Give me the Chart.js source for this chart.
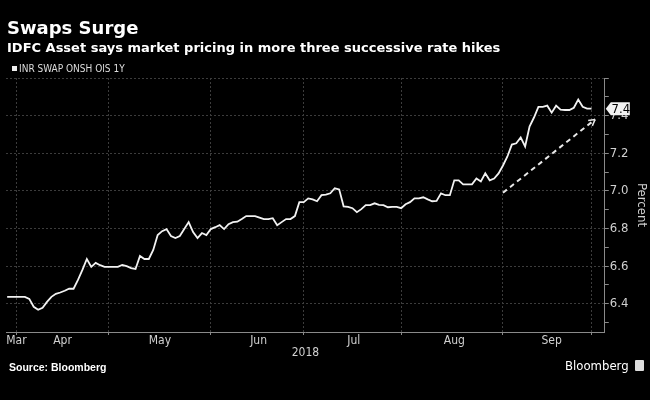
<!DOCTYPE html>
<html>
<head>
<meta charset="utf-8">
<script src="https://cdn.jsdelivr.net/npm/chart.js@4"></script>
<style>
  body { margin: 0; background: #000; }
  #wrap { position: relative; width: 650px; height: 400px; background: #000; overflow: hidden; }
  #chart { position: absolute; left: 0; top: 0; }
  .txt { position: absolute; color: #fff; white-space: nowrap; }
  #title { left: 7px; top: 19px; font: bold 18px/18px 'DejaVu Sans', sans-serif; }
  #subtitle { left: 7px; top: 41px; font: bold 13px/13px 'DejaVu Sans', sans-serif; }
  #legend { left: 12px; top: 64px; font: 10px/10px 'Liberation Sans Narrow', 'DejaVu Sans Condensed', sans-serif; color: #ddd; }
  #legend i { display: inline-block; width: 5px; height: 5px; background: #eee; margin-right: 2px; vertical-align: 1px; }
  #source { left: 9px; top: 362px; font: bold 10.5px/10.5px 'Liberation Sans', sans-serif; }
  #brand { left: 565px; top: 359px; font: 13px/13px 'DejaVu Sans Condensed', sans-serif; }
  #brand b { display: inline-block; width: 9px; height: 11px; background: #ddd; border-radius: 1px; margin-left: 6px; vertical-align: -1px; }
</style>
</head>
<body>
<div id="wrap">
  <canvas id="chart" width="650" height="400"></canvas>
  <div class="txt" id="title">Swaps Surge</div>
  <div class="txt" id="subtitle">IDFC Asset says market pricing in more three successive rate hikes</div>
  <div class="txt" id="legend"><i></i>INR SWAP ONSH OIS 1Y</div>
  <div class="txt" id="source">Source: Bloomberg</div>
  <div class="txt" id="brand">Bloomberg<b></b></div>
</div>
<script>
// x values are business days counted from the first business day of April 2018
const monthLabels = ['Mar', 'Apr', 'May', 'Jun', 'Jul', 'Aug', 'Sep'];
const monthLabelDays = [0.1, 10.5, 32.5, 54.8, 76.3, 99, 121];
const monthStartDays = [0, 21, 44, 65, 87, 110, 130];
const yearLabel = '2018';

const firstDay = -2;
const swapRates = [
    6.437, 6.437, 6.437, 6.437, 6.437, 6.426, 6.384, 6.368, 6.379, 6.41,
    6.437, 6.453, 6.46, 6.469, 6.48, 6.48, 6.527, 6.58, 6.638, 6.596,
    6.617, 6.605, 6.596, 6.596, 6.596, 6.596, 6.606, 6.6, 6.59, 6.585,
    6.654, 6.638, 6.638, 6.686, 6.765, 6.786, 6.797, 6.76, 6.749, 6.76,
    6.797, 6.834, 6.781, 6.749, 6.776, 6.765, 6.797, 6.807, 6.818, 6.797,
    6.823, 6.834, 6.836, 6.85, 6.866, 6.866, 6.866, 6.858, 6.85, 6.85,
    6.855, 6.818, 6.834, 6.85, 6.85, 6.866, 6.94, 6.94, 6.96, 6.955,
    6.945, 6.977, 6.98, 6.987, 7.014, 7.008, 6.918, 6.915, 6.908, 6.887,
    6.903, 6.924, 6.924, 6.934, 6.926, 6.924, 6.913, 6.915, 6.915, 6.908,
    6.929, 6.94, 6.96, 6.96, 6.966, 6.955, 6.945, 6.947, 6.987, 6.977,
    6.977, 7.056, 7.056, 7.035, 7.035, 7.035, 7.066, 7.05, 7.093, 7.056,
    7.066, 7.093, 7.135, 7.183, 7.246, 7.253, 7.284, 7.236, 7.342, 7.39,
    7.447, 7.447, 7.453, 7.416, 7.453, 7.432, 7.43, 7.43, 7.442, 7.485,
    7.447, 7.437, 7.437
];

// dashed trend arrow
const trendDays = [110, 130.8];
const trendRates = [6.99, 7.38];

const yLabelValues = [6.4, 6.6, 6.8, 7.0, 7.2, 7.4];
const lastValueLabel = '7.4';

const narrow = "'Liberation Sans Narrow', 'DejaVu Sans Condensed', sans-serif";

const xTicks = monthStartDays.concat(monthLabelDays).sort((a, b) => a - b);
const isMonthStart = v => monthStartDays.includes(v);
const isMajorY = v => Math.round(v * 10) % 2 === 0;

// last value tag on the axis and the head of the dashed arrow
const valueTag = {
    id: 'valueTag',
    afterDatasetsDraw(chart) {
        const ctx = chart.ctx;
        const y = chart.scales.y;
        const pts = chart.getDatasetMeta(1).data;
        const p0 = pts[0], p1 = pts[pts.length - 1];
        const ang = Math.atan2(p1.y - p0.y, p1.x - p0.x);
        ctx.save();
        ctx.strokeStyle = '#e8e8e8';
        ctx.lineWidth = 1.5;
        ctx.beginPath();
        [-1, 1].forEach(s => {
            ctx.moveTo(p1.x, p1.y);
            ctx.lineTo(p1.x - 7 * Math.cos(ang + s * 0.5), p1.y - 7 * Math.sin(ang + s * 0.5));
        });
        ctx.stroke();

        const cy = y.getPixelForValue(swapRates[swapRates.length - 1]);
        const x0 = y.left + 1;
        ctx.fillStyle = '#f2f2f2';
        ctx.beginPath();
        ctx.moveTo(x0, cy);
        ctx.lineTo(x0 + 5, cy - 6.5);
        ctx.lineTo(x0 + 24, cy - 6.5);
        ctx.lineTo(x0 + 24, cy + 6.5);
        ctx.lineTo(x0 + 5, cy + 6.5);
        ctx.closePath();
        ctx.fill();
        ctx.fillStyle = '#000';
        ctx.font = '13px ' + narrow;
        ctx.textAlign = 'center';
        ctx.textBaseline = 'middle';
        ctx.fillText(lastValueLabel, x0 + 15, cy + 0.5);
        ctx.restore();
    }
};

const chart = new Chart(document.getElementById('chart').getContext('2d'), {
    type: 'line',
    data: {
        datasets: [{
            label: 'INR SWAP ONSH OIS 1Y',
            data: swapRates.map((v, i) => ({ x: firstDay + i, y: v })),
            borderColor: '#f2f2f2',
            borderWidth: 1.8,
            pointRadius: 0,
            tension: 0
        }, {
            label: 'trend',
            data: trendDays.map((d, i) => ({ x: d, y: trendRates[i] })),
            borderColor: '#e8e8e8',
            borderWidth: 2,
            borderDash: [5, 4],
            pointRadius: 0
        }]
    },
    options: {
        responsive: false,
        animation: false,
        layout: { padding: { left: 6, top: 78, right: 0, bottom: 41 } },
        plugins: { legend: { display: false }, tooltip: { enabled: false } },
        scales: {
            x: {
                type: 'linear',
                min: -2.26,
                max: 133,
                afterBuildTicks: axis => { axis.ticks = xTicks.map(v => ({ value: v })); },
                ticks: {
                    autoSkip: false,
                    maxRotation: 0,
                    padding: 0,
                    color: '#d0d0d0',
                    font: { family: narrow, size: 12, lineHeight: 1 },
                    callback: v => {
                        const k = monthLabelDays.indexOf(v);
                        return k >= 0 ? monthLabels[k] : '';
                    }
                },
                grid: {
                    color: c => c.tick && isMonthStart(c.tick.value) ? '#3c3c3c' : 'transparent',
                    tickColor: c => c.tick && isMonthStart(c.tick.value) ? '#8a8a8a' : 'transparent',
                    tickLength: 3
                },
                border: { color: '#8a8a8a', dash: [2, 2] },
                title: {
                    display: true,
                    text: yearLabel,
                    color: '#d0d0d0',
                    font: { family: narrow, size: 12, lineHeight: 1 },
                    padding: { top: 0, bottom: 0 }
                }
            },
            y: {
                position: 'right',
                min: 6.25,
                max: 7.6,
                afterBuildTicks: axis => {
                    const t = [];
                    for (let k = 63; k <= 76; k++) t.push({ value: k / 10 });
                    axis.ticks = t;
                },
                ticks: {
                    padding: 1,
                    color: '#d0d0d0',
                    font: { family: narrow, size: 13 },
                    callback: v => yLabelValues.some(l => Math.abs(l - v) < 1e-6) ? v.toFixed(1) : ''
                },
                grid: {
                    color: c => c.tick && isMajorY(c.tick.value) ? '#3c3c3c' : 'transparent',
                    tickColor: '#8a8a8a',
                    tickLength: 4
                },
                border: { color: '#8a8a8a', dash: [2, 2] },
                title: {
                    display: true,
                    text: 'Percent',
                    color: '#d0d0d0',
                    font: { family: "'DejaVu Sans Condensed', sans-serif", size: 13 },
                    padding: { top: 1, bottom: 4 }
                }
            }
        }
    },
    plugins: [valueTag]
});
</script>
</body>
</html>
